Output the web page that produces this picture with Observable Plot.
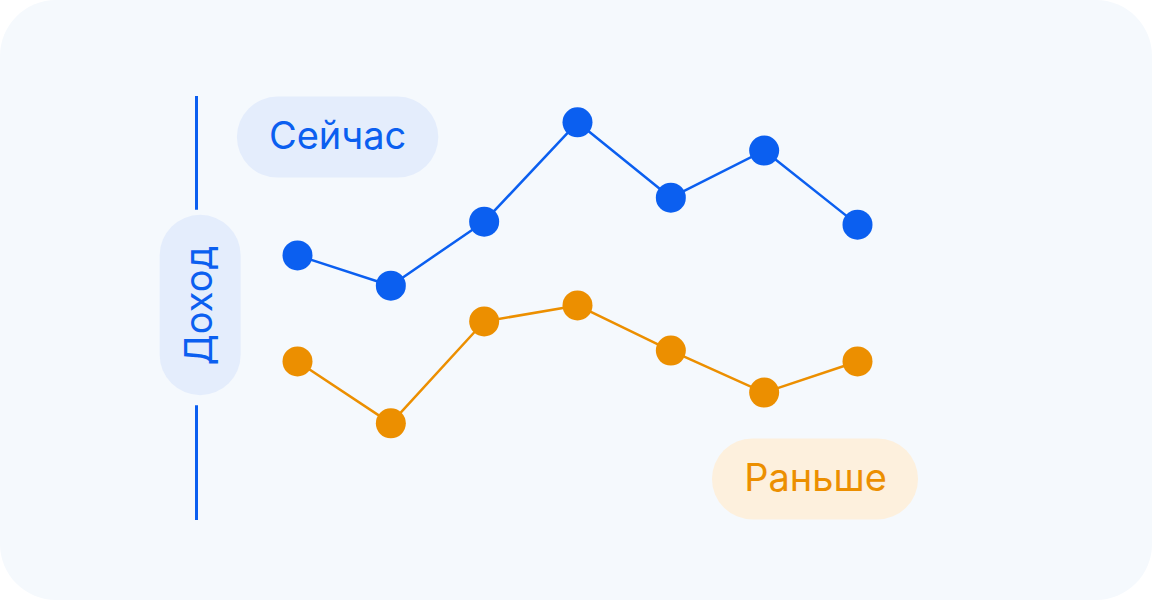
<!DOCTYPE html>
<html><head><meta charset="utf-8">
<script src="https://cdn.jsdelivr.net/npm/d3@7"></script>
<script src="https://cdn.jsdelivr.net/npm/@observablehq/plot@0.6"></script>
<style>
html,body{margin:0;padding:0;background:#fff;}
#card{position:absolute;left:0;top:0;width:1152px;height:600px;border-radius:56px;background:#f5f9fd;}
#chart{position:absolute;left:0;top:0;}
</style></head>
<body><div id="card"></div><div id="chart"></div>
<script>
const periods = [0, 1, 2, 3, 4, 5, 6];
const now = [62.5, 55.3, 70.5, 94.1, 76.2, 87.4, 69.8];
const before = [37.3, 22.6, 46.8, 50.6, 39.9, 29.9, 37.3];
const seriesNames = ["Сейчас", "Раньше"];
const axisTitle = "Доход";

const BLUE = "#0b5ff0", ORANGE = "#ec8f00";
const BLUE_PILL = "#e4edfc", ORANGE_PILL = "#fdf0dd", CARD = "#f5f9fd";

const nowData = periods.map((p, i) => ({p, v: now[i]}));
const beforeData = periods.map((p, i) => ({p, v: before[i]}));

const labels = [
  {name: seriesNames[0], x: 0.43, x1: -0.21, x2: 1.08, y: 90.6, color: BLUE, pill: BLUE_PILL},
  {name: seriesNames[1], x: 5.55, x1: 4.88, x2: 6.22, y: 9.4, color: ORANGE, pill: ORANGE_PILL}
];
const titlePill = [{x: -1.043, gx: -1.082, y1: 38.8, y2: 62.4, y: 50.6, g1: 26.8, g2: 73.2}];

const chart = Plot.plot({
  width: 1152, height: 600,
  marginLeft: 196, marginRight: 0, marginTop: 97, marginBottom: 82,
  style: {background: "transparent", fontFamily: "Inter, 'Noto Sans', sans-serif", overflow: "visible"},
  x: {domain: [0, 6], range: [297, 857], axis: null},
  y: {domain: [0, 100], axis: null},
  marks: [
    Plot.frame({anchor: "left", stroke: BLUE, strokeWidth: 3}),
    Plot.ruleX(titlePill, {x: "gx", y1: "g1", y2: "g2", stroke: CARD, strokeWidth: 12}),
    Plot.ruleX(titlePill, {x: "x", y1: "y1", y2: "y2", stroke: BLUE_PILL, strokeWidth: 81, strokeLinecap: "round"}),
    Plot.text(titlePill, {x: "x", y: "y", text: () => axisTitle, rotate: -90, fill: BLUE, fontSize: 38, fontWeight: 400}),
    Plot.ruleY(labels, {y: "y", x1: "x1", x2: "x2", stroke: "pill", strokeWidth: 81, strokeLinecap: "round"}),
    Plot.text(labels, {x: "x", y: "y", text: "name", fill: "color", fontSize: 38, fontWeight: 400}),
    Plot.line(nowData, {x: "p", y: "v", stroke: BLUE, strokeWidth: 2.5}),
    Plot.dot(nowData, {x: "p", y: "v", r: 15, fill: BLUE}),
    Plot.line(beforeData, {x: "p", y: "v", stroke: ORANGE, strokeWidth: 2.5}),
    Plot.dot(beforeData, {x: "p", y: "v", r: 15, fill: ORANGE})
  ]
});
document.getElementById("chart").appendChild(chart);
</script></body></html>
